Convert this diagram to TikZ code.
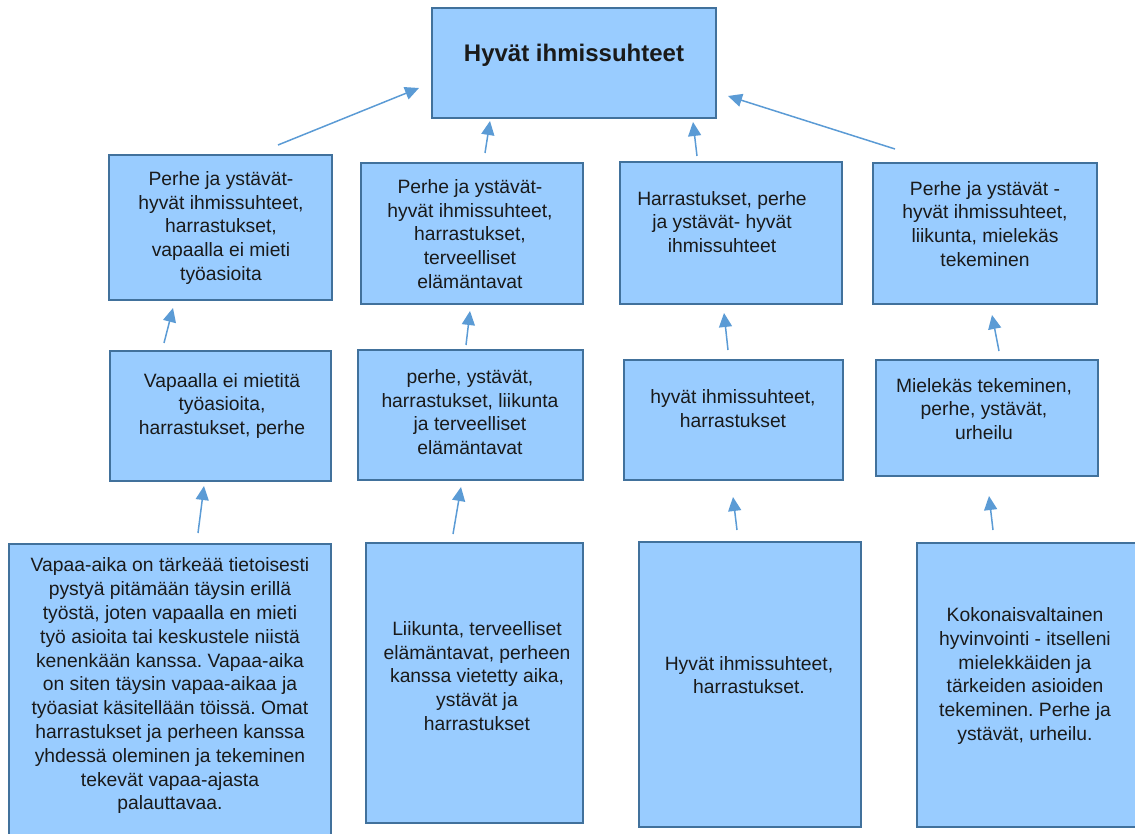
\documentclass[tikz,border=0pt]{standalone}
\usepackage{fontspec}
\setmainfont{Liberation Sans}
\usetikzlibrary{arrows.meta}
\definecolor{boxfill}{HTML}{99CCFF}
\definecolor{boxline}{HTML}{41719C}
\definecolor{arrowblue}{HTML}{5B9BD5}
\definecolor{inktext}{HTML}{1A1A1A}
\frenchspacing
\tikzset{
  panel/.style={draw=boxline, fill=boxfill, line width=1.8pt},
  label/.style={align=center, text=inktext, inner sep=0pt,
                font=\fontsize{19.3}{23.8}\selectfont},
  title/.style={align=center, text=inktext, inner sep=0pt,
                font=\fontsize{24}{28}\selectfont\bfseries},
  link/.style={draw=arrowblue, line width=1.5pt,
               -{Triangle[length=14pt,width=13pt]}}
}
\begin{document}
\begin{tikzpicture}[x=1pt,y=-1pt]
\useasboundingbox (0,0) rectangle (1135,834);
\clip (0,0) rectangle (1135,834);

% top box
\draw[panel] (432,8) rectangle (716,118);
\node[title] (top) at (574,55) {Hyvät ihmissuhteet};

% second row
\draw[panel] (109,155) rectangle (332,300);
\node[label] (a2) at (221,228) {Perhe ja ystävät-\\hyvät ihmissuhteet,\\harrastukset,\\vapaalla ei mieti\\työasioita};
\draw[panel] (361,163) rectangle (583,304);
\node[label] (b2) at (470,234) {Perhe ja ystävät-\\hyvät ihmissuhteet,\\harrastukset,\\terveelliset\\elämäntavat};
\draw[panel] (620,162) rectangle (842,304);
\node[label] (c2) at (722,222) {Harrastukset, perhe\\ja ystävät- hyvät\\ihmissuhteet};
\draw[panel] (873,163) rectangle (1097,304);
\node[label] (d2) at (985,224) {Perhe ja ystävät -\\hyvät ihmissuhteet,\\liikunta, mielekäs\\tekeminen};

% third row
\draw[panel] (110,351) rectangle (331,481);
\node[label] (a3) at (222,406) {Vapaalla ei mietitä\\työasioita,\\harrastukset, perhe};
\draw[panel] (358,350) rectangle (583,480);
\node[label] (b3) at (470,412) {perhe, ystävät,\\harrastukset, liikunta\\ja terveelliset\\elämäntavat};
\draw[panel] (624,360) rectangle (843,480);
\node[label] (c3) at (733,409) {hyvät ihmissuhteet,\\harrastukset};
\draw[panel] (876,360) rectangle (1098,476);
\node[label] (d3) at (984,409) {Mielekäs tekeminen,\\perhe, ystävät,\\urheilu};

% bottom row
\draw[panel] (9,544) rectangle (331,850);
\node[label] (a4) at (170,686) {Vapaa-aika on tärkeää tietoisesti\\pystyä pitämään täysin erillä\\työstä, joten vapaalla en mieti\\työ asioita tai keskustele niistä\\kenenkään kanssa. Vapaa-aika\\on siten täysin vapaa-aikaa ja\\työasiat käsitellään töissä. Omat\\harrastukset ja perheen kanssa\\yhdessä oleminen ja tekeminen\\tekevät vapaa-ajasta\\palauttavaa.};
\draw[panel] (366,543) rectangle (583,823);
\node[label] (b4) at (477,676) {Liikunta, terveelliset\\elämäntavat, perheen\\kanssa vietetty aika,\\ystävät ja\\harrastukset};
\draw[panel] (639,542) rectangle (861,827);
\node[label] (c4) at (749,675) {Hyvät ihmissuhteet,\\harrastukset.};
\draw[panel] (917,543) rectangle (1150,827);
\node[label] (d4) at (1025,676) {Kokonaisvaltainen\\hyvinvointi - itselleni\\mielekkäiden ja\\tärkeiden asioiden\\tekeminen. Perhe ja\\ystävät, urheilu.};

% connector end points
\coordinate (a2s) at (278,145);  \coordinate (a2e) at (419,88);
\coordinate (b2s) at (485,153);  \coordinate (b2e) at (490,121);
\coordinate (c2s) at (697,156);  \coordinate (c2e) at (693,122);
\coordinate (d2s) at (895,149);  \coordinate (d2e) at (728,96);
\coordinate (a3s) at (164,343);  \coordinate (a3e) at (173,308);
\coordinate (b3s) at (466,345);  \coordinate (b3e) at (470,311);
\coordinate (c3s) at (728,350);  \coordinate (c3e) at (724,313);
\coordinate (d3s) at (999,351);  \coordinate (d3e) at (992,315);
\coordinate (a4s) at (198,533);  \coordinate (a4e) at (204,486);
\coordinate (b4s) at (453,534);  \coordinate (b4e) at (461,487);
\coordinate (c4s) at (737,530);  \coordinate (c4e) at (733,497);
\coordinate (d4s) at (993,530);  \coordinate (d4e) at (989,496);

\foreach \n in {a2,b2,c2,d2,a3,b3,c3,d3,a4,b4,c4,d4}
  \draw[link] (\n s) -- (\n e);
\end{tikzpicture}
\end{document}
